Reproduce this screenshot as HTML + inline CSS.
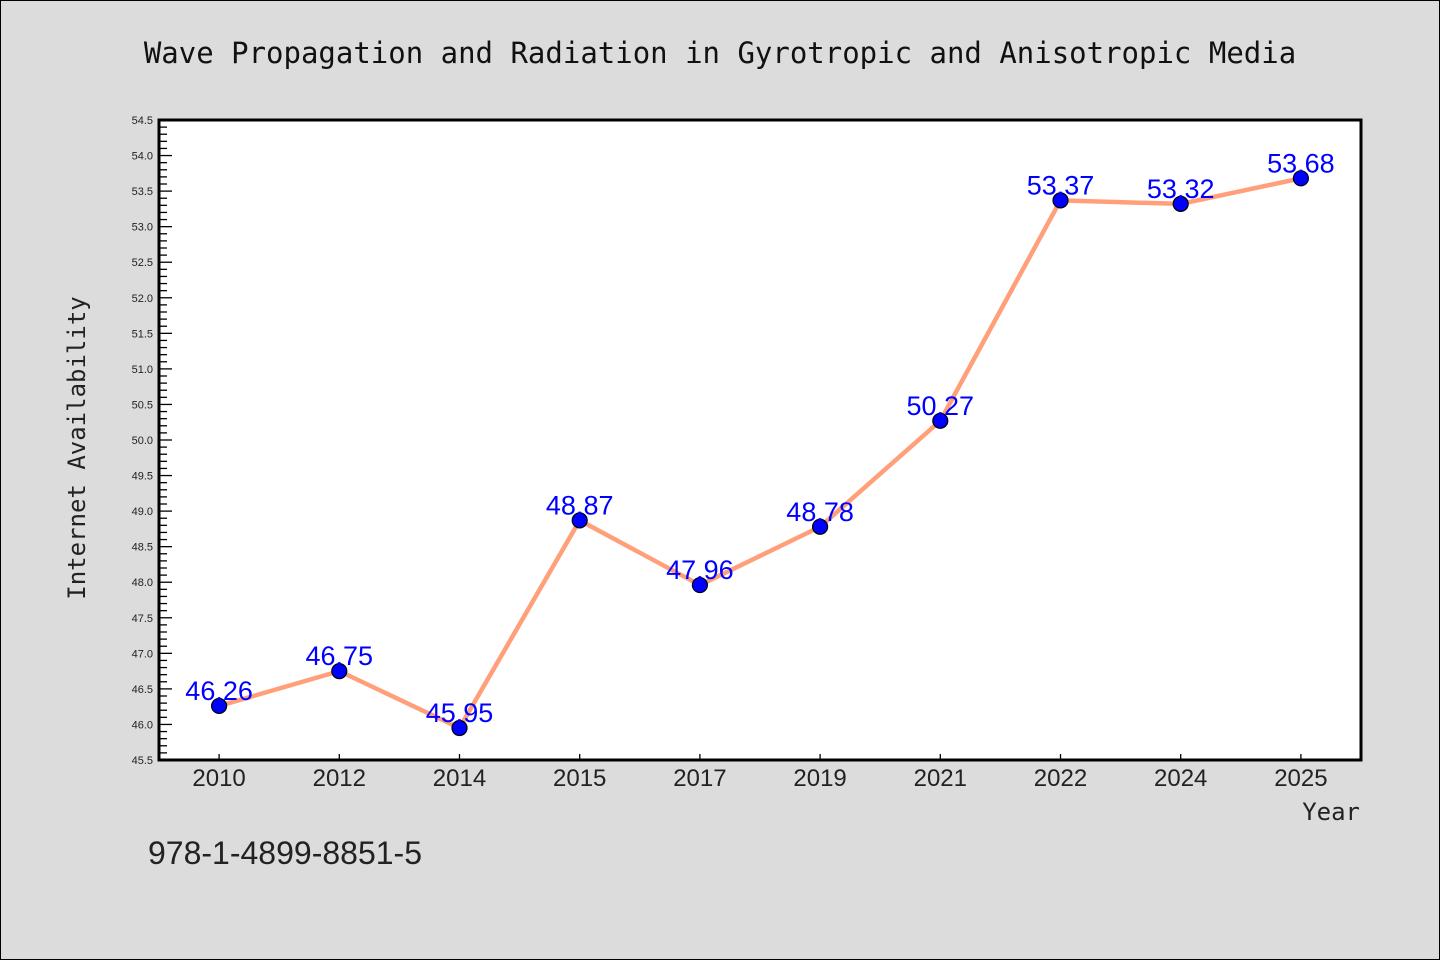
<!DOCTYPE html>
<html><head><meta charset="utf-8"><style>
body{margin:0;background:#dcdcdc;}
svg{display:block;font-family:"Liberation Sans","DejaVu Sans",sans-serif;}
</style></head><body>
<svg id="chart" width="1440" height="960">
<rect x="0.5" y="0.5" width="1439" height="959" fill="#dcdcdc" stroke="#000" stroke-width="1"/>
<text x="720" y="63" text-anchor="middle" font-family="'DejaVu Sans Mono','Liberation Mono',monospace" font-size="29" fill="#111">Wave Propagation and Radiation in Gyrotropic and Anisotropic Media</text>
<rect x="159" y="120" width="1202" height="640" fill="#fff"/>
<g id="yaxis"></g><g id="xaxis"></g><g id="series"></g>
<rect x="159" y="120" width="1202" height="640" fill="none" stroke="#000" stroke-width="3"/>
<text transform="translate(85,448) rotate(-90)" text-anchor="middle" font-family="'DejaVu Sans Mono','Liberation Mono',monospace" font-size="24" fill="#222">Internet Availability</text>
<text x="1360" y="820" text-anchor="end" font-family="'DejaVu Sans Mono','Liberation Mono',monospace" font-size="24" fill="#222">Year</text>
<text x="148" y="864" font-size="32" fill="#222">978-1-4899-8851-5</text>
</svg>
<script>
const categories=["2010","2012","2014","2015","2017","2019","2021","2022","2024","2025"];
const values=[46.26,46.75,45.95,48.87,47.96,48.78,50.27,53.37,53.32,53.68];
const yTicks=[45.5,46.0,46.5,47.0,47.5,48.0,48.5,49.0,49.5,50.0,50.5,51.0,51.5,52.0,52.5,53.0,53.5,54.0,54.5];
const NS="http://www.w3.org/2000/svg";
const L=159,R=1361,T=120,B=760,yMin=45.5,yMax=54.5;
const y=v=>B-(v-yMin)/(yMax-yMin)*(B-T);
const bw=(R-L)/categories.length;
const x=i=>L+bw*(i+0.5);
function mk(tag,attrs,parent){const e=document.createElementNS(NS,tag);for(const k in attrs)e.setAttribute(k,attrs[k]);parent.appendChild(e);return e;}
const ya=document.getElementById('yaxis');
for(let v=yMin;v<=yMax+1e-9;v+=0.1){
 const major=Math.abs(v*2-Math.round(v*2))<1e-6;
 const t=mk('line',{x1:L,x2:L+(major?13:8),y1:y(v),y2:y(v),stroke:'#000','stroke-width':1.3},ya);
 
 
}
yTicks.forEach(v=>{const t=mk('text',{x:L-6,y:y(v)+4,'text-anchor':'end','font-size':11,fill:'#222'},ya);t.textContent=v.toFixed(1);
 
 });
const xa=document.getElementById('xaxis');
categories.forEach((c,i)=>{
 const t=mk('line',{x1:x(i),x2:x(i),y1:B,y2:B-6,stroke:'#000','stroke-width':1.3},xa);
 
 
 const l=mk('text',{x:x(i),y:B+26,'text-anchor':'middle','font-size':24,fill:'#222'},xa);l.textContent=c;
 
 
});
const s=document.getElementById('series');
const line=mk('polyline',{points:values.map((v,i)=>x(i)+','+y(v)).join(' '),fill:'none',stroke:'#ffa07a','stroke-width':4.5,'stroke-linejoin':'round'},s);


values.forEach((v,i)=>{
 const c=mk('circle',{cx:x(i),cy:y(v),r:7.5,fill:'#0000ff',stroke:'#000','stroke-width':1.2},s);
 
 
});
values.forEach((v,i)=>{
 const t=mk('text',{x:x(i),y:y(v)-6,'text-anchor':'middle','font-size':27,fill:'#0000ff'},s);t.textContent=v.toFixed(2);
 
 
});
</script>
</body></html>
